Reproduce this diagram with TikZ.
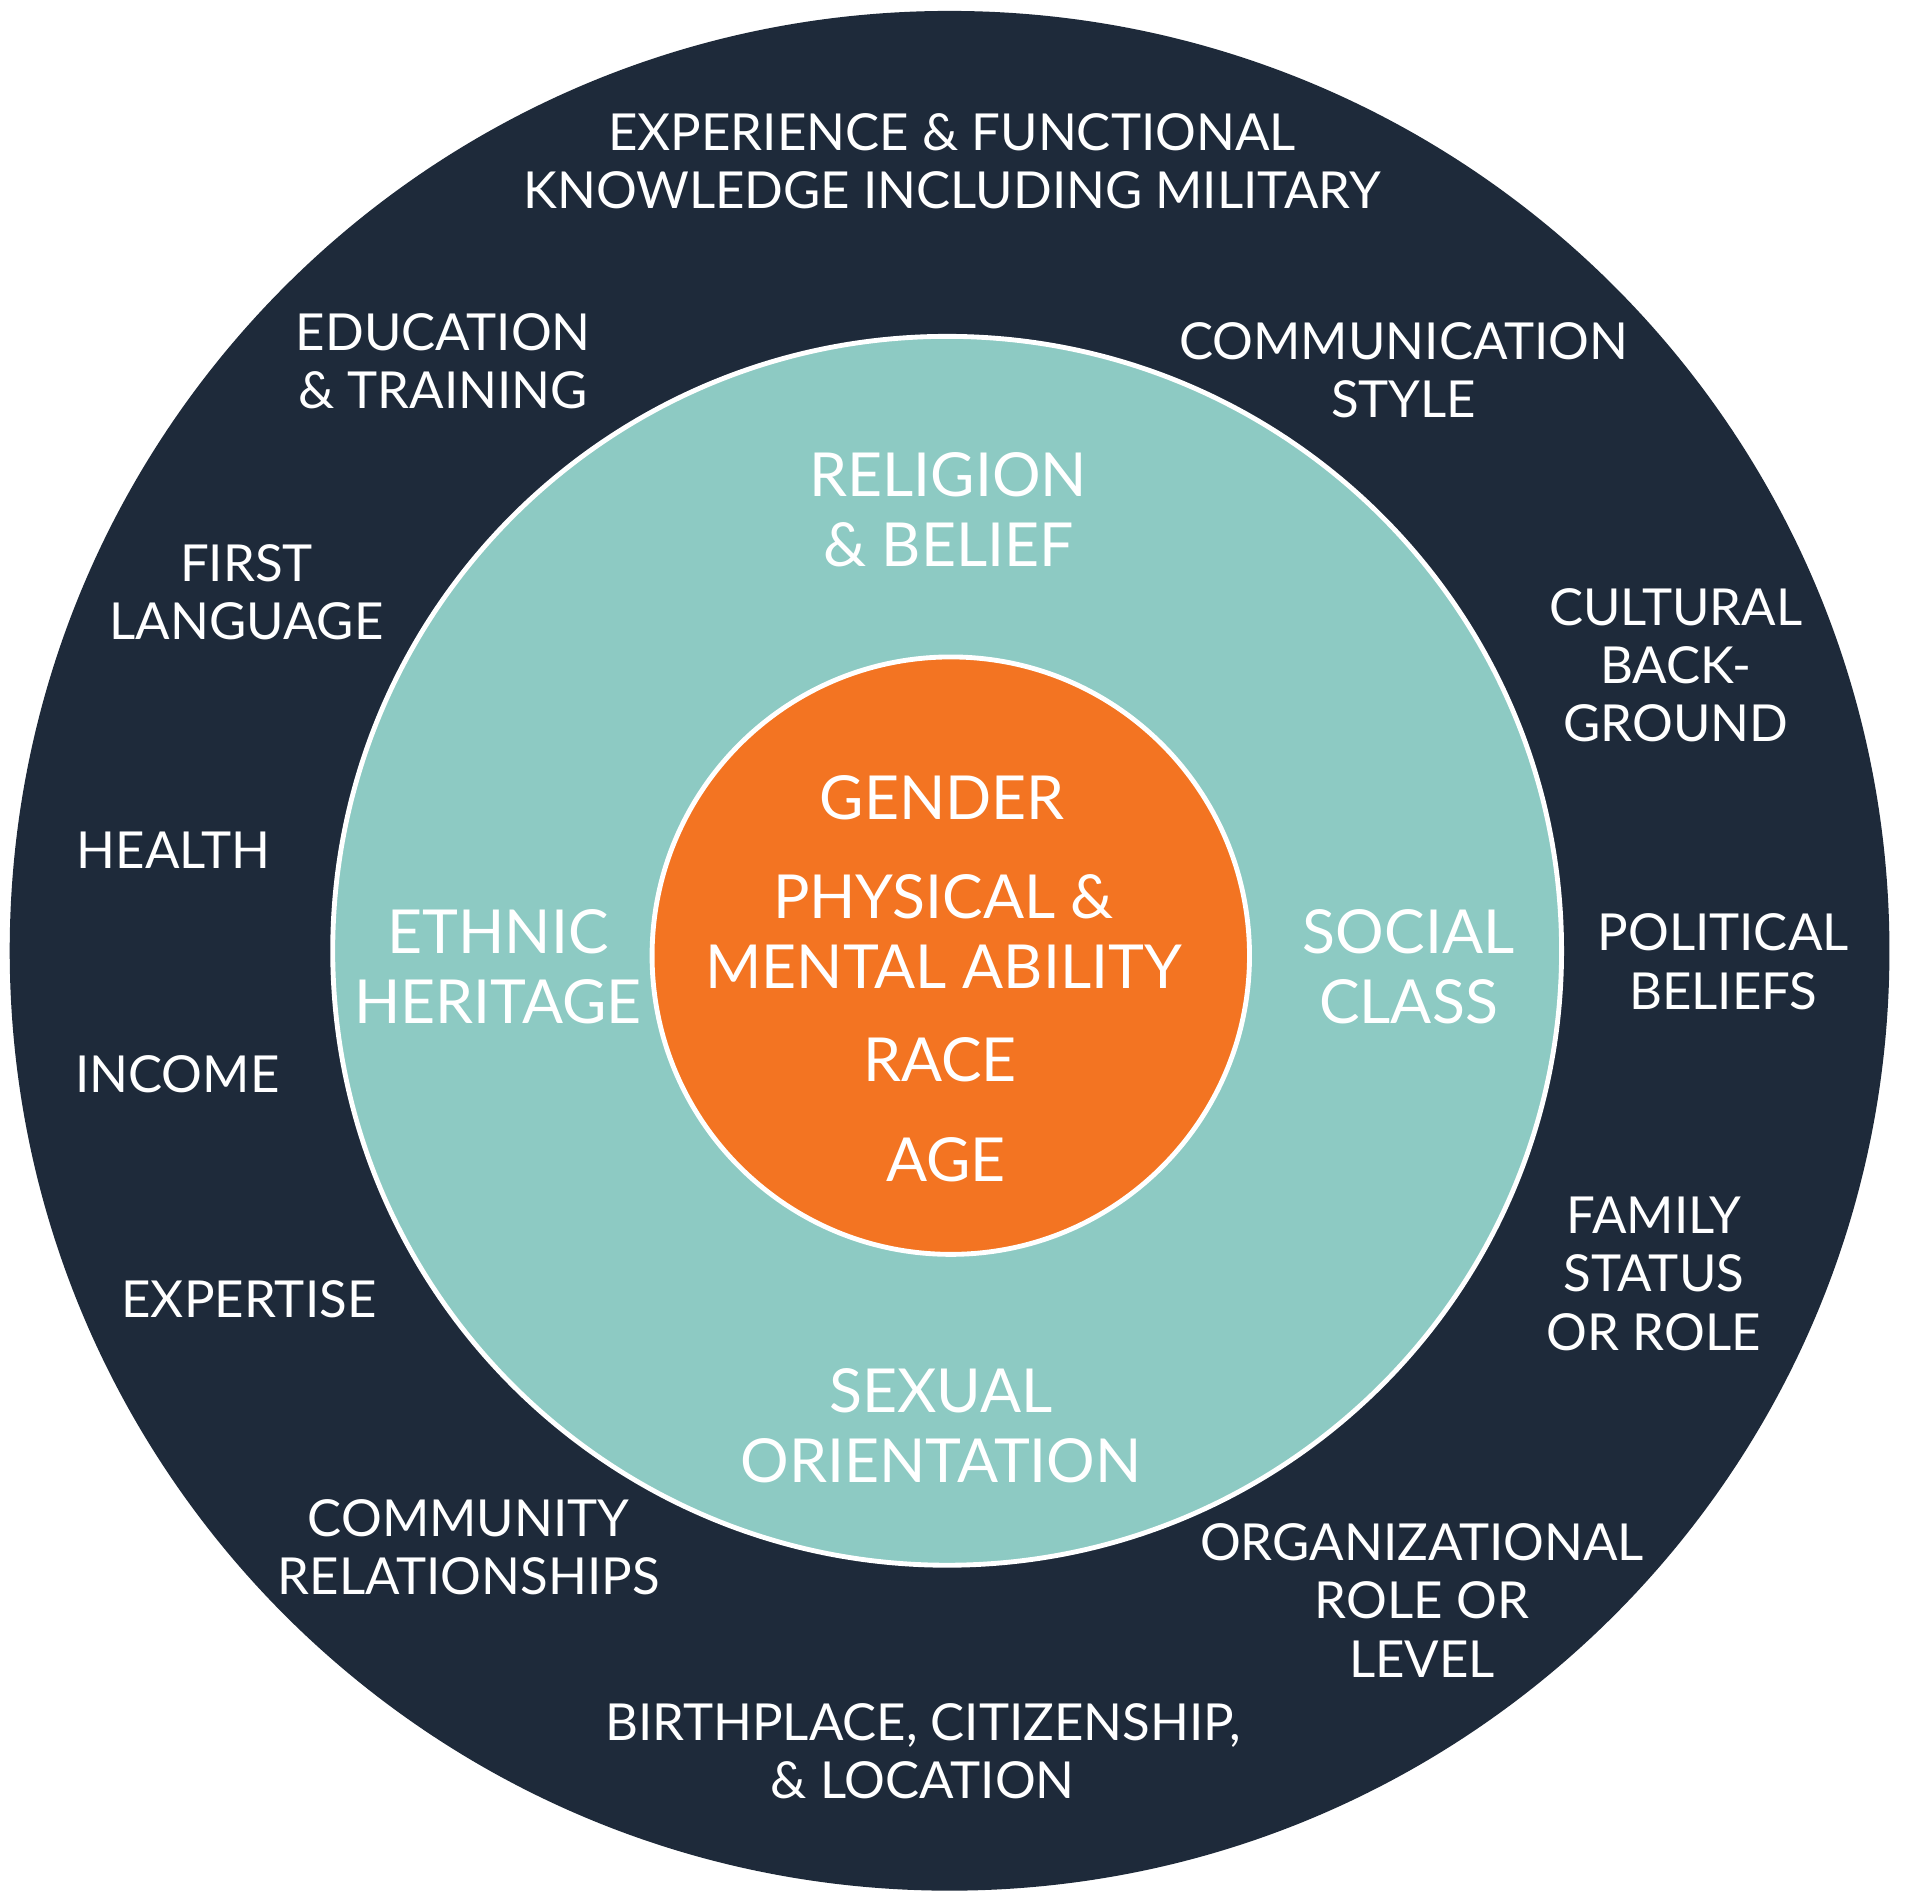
\documentclass[tikz,border=0pt]{standalone}
\usepackage{fontspec}
\setmainfont{Lato}
\definecolor{navy}{HTML}{1E2A3A}
\definecolor{teal}{HTML}{8DCAC3}
\definecolor{orng}{HTML}{F37422}
\begin{document}
\begin{tikzpicture}[x=1pt,y=-1pt,
  outer/.style={text=white,align=center,font=\fontsize{42}{48}\selectfont,inner sep=0pt},
  inner/.style={text=white,align=center,font=\fontsize{50}{58}\selectfont,inner sep=0pt}]
\useasboundingbox (0,0) rectangle (1568,1568);
\fill[white] (0,0) rectangle (1568,1568);
\node[circle,fill=navy,minimum size=1548pt,inner sep=0pt] (outerc) at (782,783) {};
\node[circle,fill=teal,draw=white,line width=4pt,minimum size=1012pt,inner sep=0pt] (midc) at (780,783) {};
\node[circle,fill=orng,draw=white,line width=4pt,minimum size=492pt,inner sep=0pt] (corec) at (783,787) {};
% outer ring labels
\node[outer] (exp) at (784,133) {EXPERIENCE \& FUNCTIONAL\\KNOWLEDGE INCLUDING MILITARY};
\node[outer] (edu) at (365,297.5) {EDUCATION\\\& TRAINING};
\node[outer] (comm) at (1156,305) {COMMUNICATION\\STYLE};
\node[outer] (first) at (203,488) {FIRST\\LANGUAGE};
\node[outer] (cult) at (1380,548) {CULTURAL\\BACK-\\GROUND};
\node[outer] (health) at (143,700) {HEALTH};
\node[outer] (pol) at (1419,792) {POLITICAL\\BELIEFS};
\node[outer] (inc) at (146,885) {INCOME};
\node[outer] (fam) at (1362,1049) {FAMILY\\STATUS\\OR ROLE};
\node[outer] (expt) at (205,1070) {EXPERTISE};
\node[outer] (comty) at (386,1274) {COMMUNITY\\RELATIONSHIPS};
\node[outer] (org) at (1171,1318) {ORGANIZATIONAL\\ROLE OR\\LEVEL};
\node[outer] (birth) at (760,1442) {BIRTHPLACE, CITIZENSHIP,\\\& LOCATION};
% middle ring labels
\node[inner] (rel) at (781,420) {RELIGION\\\& BELIEF};
\node[inner] (eth) at (410,796) {ETHNIC\\HERITAGE};
\node[inner] (soc) at (1160,796) {SOCIAL\\CLASS};
\node[inner] (sex) at (775,1174) {SEXUAL\\ORIENTATION};
% core labels
\node[inner] (gen) at (776,657) {GENDER};
\node[inner] (phys) at (777,767) {PHYSICAL \&\\MENTAL ABILITY};
\node[inner] (race) at (774,873) {RACE};
\node[inner] (age) at (779,955) {AGE};
\end{tikzpicture}
\end{document}
